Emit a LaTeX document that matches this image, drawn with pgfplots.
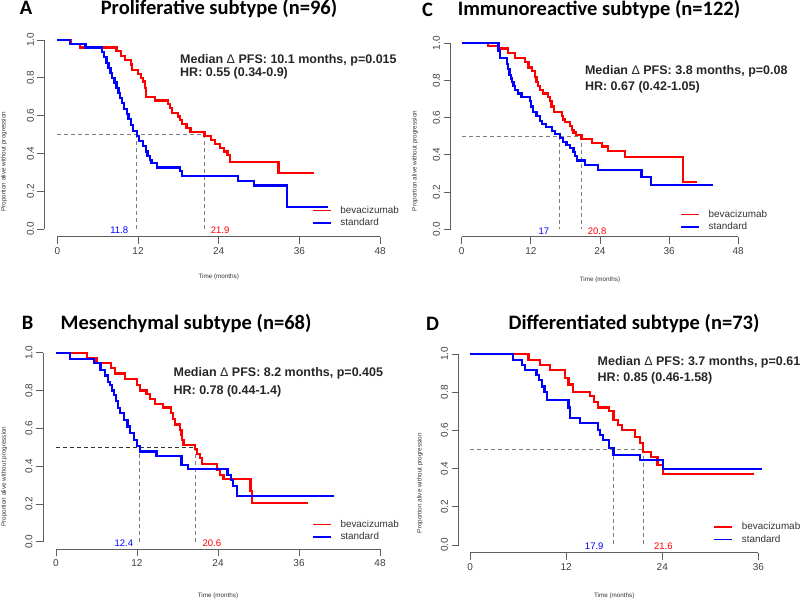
\documentclass[border=0pt]{standalone}
\usepackage{fontspec}
\setmainfont{Liberation Sans}
\newfontfamily\titlefont{Carlito}
\usepackage{pgfplots}
\pgfplotsset{compat=1.18}

\definecolor{kmred}{RGB}{255,0,0}
\definecolor{kmblue}{RGB}{0,0,255}
\definecolor{axgray}{RGB}{95,95,95}
\definecolor{dashgray}{RGB}{125,125,125}

\pgfplotsset{
  km/.style={
    scale only axis,
    axis lines*=left,
    axis line style={draw=none},
    xmin=-1.92, xmax=49.92, ymin=-0.04, ymax=1.04,
    xtick={0,12,24,36,48},
    xticklabels={0,12,24,36,48},
    ytick={0,0.2,0.4,0.6,0.8,1},
    yticklabels={0.0,0.2,0.4,0.6,0.8,1.0},
    tick align=outside,
    major tick length=7pt,
    tick style={axgray, line width=0.8pt},
    ticklabel style={font=\fontsize{10}{12}\selectfont, text=black!75},
    yticklabel style={rotate=90, anchor=south},
    xlabel={Time (months)},
    ylabel={Proportion alive without progression},
    label style={font=\fontsize{6.3}{7}\selectfont, text=black!80},
    clip=false,
    legend cell align=left,
    legend image code/.code={\draw[##1, line width=1.5pt] (0pt,0pt) -- (18pt,0pt);},
    legend style={draw=none, fill=none, anchor=west, inner sep=0pt, column sep=8pt,
      font=\fontsize{9.9}{12}\selectfont, text=black!80,
      nodes={text height=8pt, text depth=2.5pt, inner sep=1pt}},
  },
  bev/.style={kmred, line width=2.2pt, const plot mark left, mark=none},
  std/.style={kmblue, line width=2.2pt, const plot mark left, mark=none},
  med/.style={dashgray, line width=1pt, dash pattern=on 4pt off 3pt, forget plot},
}
\tikzset{
  note/.style={anchor=base west, font=\bfseries\fontsize{12.5}{14}\selectfont, text=black!85},
  mlab/.style={font=\fontsize{9.5}{11}\selectfont},
}
\newcommand\ttl{\titlefont\bfseries\fontsize{20.5}{24}\selectfont}

\begin{document}
\begin{tikzpicture}
\useasboundingbox (0pt,0pt) rectangle (800pt,602pt);
\begin{scope}[overlay]
\clip (0pt,0pt) rectangle (800pt,602pt);

% ---- A: proliferative
\begin{scope}
\clip (0pt,301pt) rectangle (400pt,602pt);
\node[font=\ttl] at (26pt,593.7pt) {A};
\node[font=\ttl] at (219pt,593.7pt) {Proliferative subtype (n=96)};
\begin{axis}[km, at={(44.4pt,365.4pt)}, anchor=south west, width=348.6pt, height=204.2pt,
  ylabel style={at={(axis description cs:-0.116,0.367)}, anchor=center},
  xlabel style={at={(axis description cs:0.5,0)}, anchor=center, yshift=-40pt},
  legend style={at={(axis description cs:0.767,0.096)}}]
\draw[axgray, line width=0.8pt] (axis cs:0,-0.04) -- (axis cs:48,-0.04);
\draw[axgray, line width=0.8pt] (axis cs:-1.92,0) -- (axis cs:-1.92,1);
\addplot[med] coordinates {(0,0.5) (21.9,0.5)};
\addplot[med] coordinates {(11.8,0.5) (11.8,0)};
\addplot[med] coordinates {(21.9,0.5) (21.9,0)};
\addplot[bev] coordinates {(0,1)(2.0,0.98)(3.4,0.96)(8.8,0.94)(9.5,0.915)(10.1,0.894)(10.9,0.87)(11.1,0.84)(12.0,0.82)(12.4,0.80)(12.7,0.78)(13.0,0.745)(13.2,0.70)(14.5,0.68)(16.5,0.66)(16.8,0.64)(17.1,0.615)(18.0,0.595)(18.3,0.575)(18.6,0.555)(19.2,0.535)(19.8,0.515)(21.9,0.49)(22.9,0.47)(23.4,0.45)(24.2,0.43)(24.8,0.41)(25.3,0.39)(25.7,0.353)(32.9,0.298)(38.1,0.298)};
\addplot[std] coordinates {(0,1)(1.9,0.98)(4.2,0.96)(6.6,0.935)(7.0,0.91)(7.3,0.88)(7.6,0.85)(7.9,0.825)(8.1,0.80)(8.5,0.775)(8.8,0.745)(9.1,0.72)(9.3,0.695)(9.6,0.665)(9.9,0.635)(10.4,0.61)(10.6,0.58)(10.9,0.55)(11.2,0.52)(11.8,0.49)(12.1,0.465)(12.8,0.44)(13.2,0.41)(13.4,0.385)(13.8,0.365)(14.0,0.35)(14.8,0.325)(18.2,0.305)(18.6,0.28)(26.9,0.255)(29.3,0.23)(34.1,0.115)(40.3,0.115)};
\legend{bevacizumab, standard}
\node[note] at (axis cs:17.75,0.877) {Median {\mdseries Δ} PFS: 10.1 months, p=0.015};
\node[note] at (axis cs:17.75,0.806) {HR: 0.55 (0.34-0.9)};
\node[mlab, text=kmblue, anchor=base east] at (axis cs:11.06,-0.023) {11.8};
\node[mlab, text=kmred, anchor=base west] at (axis cs:22.3,-0.023) {21.9};
\end{axis}
\end{scope}

% ---- C: immunoreactive
\begin{scope}
\clip (400pt,301pt) rectangle (800pt,602pt);
\node[font=\ttl] at (427.5pt,592pt) {C};
\node[font=\ttl] at (599pt,592pt) {Immunoreactive subtype (n=122)};
\begin{axis}[km, at={(450.6pt,365.3pt)}, anchor=south west, width=298.7pt, height=200.9pt,
  ylabel style={at={(axis description cs:-0.119,0.377)}, anchor=center},
  xlabel style={at={(axis description cs:0.5,0)}, anchor=center, yshift=-43pt},
  legend style={at={(axis description cs:0.768,0.079)}}]
\draw[axgray, line width=0.8pt] (axis cs:0,-0.04) -- (axis cs:48,-0.04);
\draw[axgray, line width=0.8pt] (axis cs:-1.92,0) -- (axis cs:-1.92,1);
\addplot[med] coordinates {(0,0.5) (20.8,0.5)};
\addplot[med] coordinates {(17,0.5) (17,0)};
\addplot[med] coordinates {(20.8,0.5) (20.8,0)};
\addplot[bev] coordinates {(0,1)(4.6,0.987)(6.3,0.972)(8.0,0.948)(9.25,0.92)(11.0,0.90)(11.6,0.87)(12.2,0.85)(12.7,0.82)(13.0,0.79)(13.3,0.77)(13.6,0.75)(14.1,0.73)(15.0,0.71)(15.3,0.69)(15.6,0.66)(16.0,0.63)(17.35,0.61)(17.6,0.59)(17.9,0.575)(18.8,0.555)(19.1,0.535)(19.4,0.52)(19.9,0.505)(20.8,0.485)(22.6,0.465)(24.3,0.445)(25.4,0.42)(28.3,0.39)(38.4,0.255)(40.8,0.255)};
\addplot[std] coordinates {(0,1)(6.4,0.96)(6.6,0.92)(7.9,0.89)(8.1,0.86)(8.3,0.83)(8.5,0.81)(8.7,0.79)(9.0,0.77)(9.25,0.75)(9.8,0.73)(10.4,0.71)(11.9,0.69)(12.1,0.66)(12.4,0.63)(13.0,0.61)(13.6,0.58)(13.9,0.565)(14.6,0.55)(15.7,0.53)(16.2,0.51)(17.0,0.49)(17.6,0.47)(18.2,0.455)(18.8,0.435)(19.4,0.415)(19.7,0.395)(19.95,0.37)(21.4,0.345)(23.7,0.32)(31.2,0.28)(32.8,0.24)(43.7,0.24)};
\legend{bevacizumab, standard}
\node[note] at (axis cs:20.8,0.830) {Median {\mdseries Δ} PFS: 3.8 months, p=0.08};
\node[note] at (axis cs:20.8,0.746) {HR: 0.67 (0.42-1.05)};
\node[mlab, text=kmblue, anchor=base east] at (axis cs:15.8,-0.03) {17};
\node[mlab, text=kmred, anchor=base west] at (axis cs:21.3,-0.03) {20.8};
\end{axis}
\end{scope}

% ---- B: mesenchymal
\begin{scope}
\clip (0pt,0pt) rectangle (400pt,301pt);
\node[font=\ttl] at (27.5pt,278.7pt) {B};
\node[font=\ttl] at (186pt,278.7pt) {Mesenchymal subtype (n=68)};
\begin{axis}[km, at={(43.0pt,52.7pt)}, anchor=south west, width=350pt, height=204.1pt,
  ylabel style={at={(axis description cs:-0.111,0.356)}, anchor=center},
  xlabel style={at={(axis description cs:0.5,0)}, anchor=center, yshift=-46.7pt},
  legend style={at={(axis description cs:0.768,0.091)}}]
\draw[axgray, line width=0.8pt] (axis cs:0,-0.04) -- (axis cs:48,-0.04);
\draw[axgray, line width=0.8pt] (axis cs:-1.92,0) -- (axis cs:-1.92,1);
\addplot[med, black!80] coordinates {(0,0.5) (20.6,0.5)};
\addplot[med] coordinates {(12.4,0.5) (12.4,0)};
\addplot[med] coordinates {(20.6,0.5) (20.6,0)};
\addplot[bev] coordinates {(0,1)(4.6,0.97)(6.0,0.945)(8.2,0.92)(8.8,0.89)(10.2,0.86)(12.0,0.83)(12.4,0.80)(13.4,0.78)(13.9,0.755)(14.7,0.73)(15.9,0.71)(17.0,0.68)(17.3,0.65)(17.6,0.62)(18.4,0.59)(18.6,0.565)(18.7,0.54)(18.9,0.51)(20.6,0.49)(20.9,0.465)(21.3,0.445)(21.6,0.41)(23.8,0.38)(24.3,0.355)(24.8,0.33)(28.8,0.27)(29.0,0.207)(37.4,0.207)};
\addplot[std] coordinates {(0,1)(2.1,0.968)(5.6,0.945)(6.6,0.91)(7.3,0.88)(7.7,0.845)(8.0,0.83)(8.3,0.80)(8.6,0.778)(8.9,0.743)(9.2,0.707)(9.5,0.68)(10.1,0.645)(10.6,0.61)(11.0,0.575)(11.6,0.54)(12.0,0.505)(12.4,0.478)(14.9,0.452)(18.6,0.407)(19.6,0.386)(25.4,0.355)(25.9,0.328)(26.2,0.293)(26.8,0.24)(41.2,0.24)};
\legend{bevacizumab, standard}
\node[note] at (axis cs:16.9,0.873) {Median {\mdseries Δ} PFS: 8.2 months, p=0.405};
\node[note] at (axis cs:16.9,0.780) {HR: 0.78 (0.44-1.4)};
\node[mlab, text=kmblue, anchor=base east] at (axis cs:11.95,-0.026) {12.4};
\node[mlab, text=kmred, anchor=base west] at (axis cs:21.2,-0.026) {20.6};
\end{axis}
\end{scope}

% ---- D: differentiated
\begin{scope}
\clip (400pt,0pt) rectangle (800pt,301pt);
\node[font=\ttl] at (432.5pt,278pt) {D};
\node[font=\ttl] at (634pt,278pt) {Differentiated subtype (n=73)};
\begin{axis}[km, at={(458.5pt,49.4pt)}, anchor=south west, width=311.4pt, height=206.3pt,
  xmin=-1.44, xmax=37.44, xtick={0,12,24,36}, xticklabels={0,12,24,36},
  ylabel style={at={(axis description cs:-0.124,0.337)}, anchor=center},
  xlabel style={at={(axis description cs:0.5,0)}, anchor=center, yshift=-43.4pt},
  legend style={at={(axis description cs:0.818,0.095)}}]
\draw[axgray, line width=0.8pt] (axis cs:0,-0.04) -- (axis cs:36,-0.04);
\draw[axgray, line width=0.8pt] (axis cs:-1.44,0) -- (axis cs:-1.44,1);
\addplot[med] coordinates {(0,0.5) (21.6,0.5)};
\addplot[med] coordinates {(17.9,0.5) (17.9,0)};
\addplot[med] coordinates {(21.6,0.5) (21.6,0)};
\addplot[bev] coordinates {(0,1)(7.3,0.969)(8.7,0.942)(10.0,0.916)(11.9,0.873)(12.3,0.84)(12.9,0.80)(15.0,0.78)(15.5,0.75)(16.0,0.72)(17.3,0.70)(17.9,0.654)(18.5,0.628)(19.0,0.602)(20.6,0.567)(21.2,0.532)(21.6,0.488)(22.6,0.46)(23.4,0.419)(24.1,0.372)(35.4,0.372)};
\addplot[std] coordinates {(0,1)(5.4,0.969)(6.45,0.942)(6.9,0.916)(8.3,0.89)(8.6,0.864)(9.0,0.83)(9.3,0.80)(9.6,0.76)(12.3,0.72)(12.5,0.663)(13.7,0.637)(16.0,0.602)(16.2,0.576)(16.6,0.55)(17.3,0.506)(17.9,0.471)(21.2,0.445)(24.1,0.396)(36.4,0.396)};
\legend{bevacizumab, standard}
\node[note] at (axis cs:15.5,0.939) {Median {\mdseries Δ} PFS: 3.7 months, p=0.61};
\node[note] at (axis cs:15.5,0.855) {HR: 0.85 (0.46-1.58)};
\node[mlab, text=kmblue, anchor=base east] at (axis cs:17.1,-0.023) {17.9};
\node[mlab, text=kmred, anchor=base west] at (axis cs:22.55,-0.023) {21.6};
\end{axis}
\end{scope}

\end{scope}
\end{tikzpicture}
\end{document}
